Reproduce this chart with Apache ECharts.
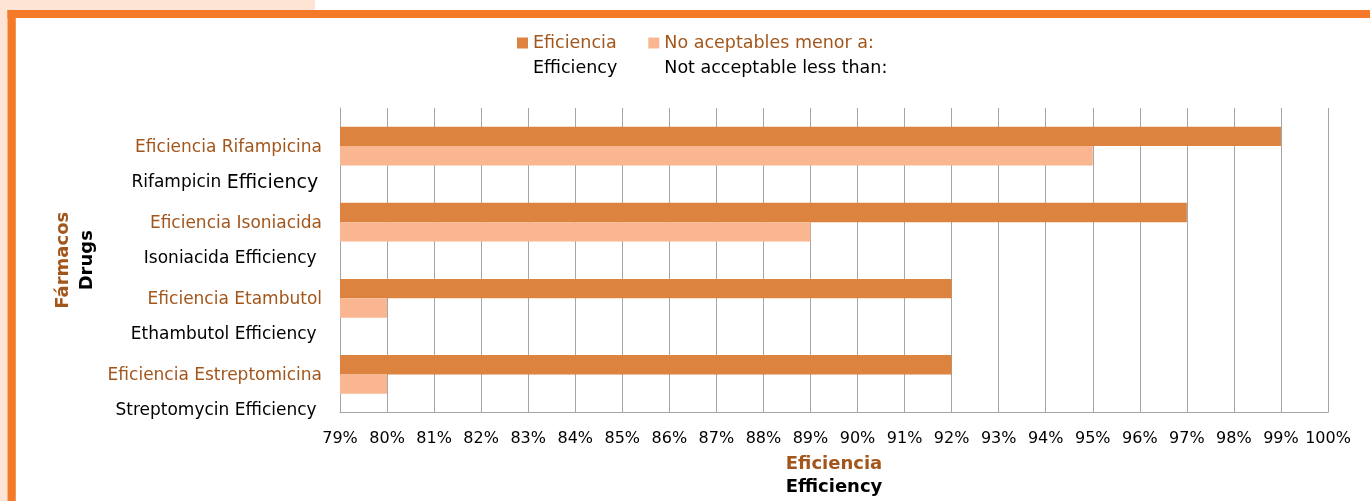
<!DOCTYPE html>
<html><head><meta charset="utf-8">
<script src="https://cdn.jsdelivr.net/npm/echarts@6/dist/echarts.min.js"></script>
<style>html,body{margin:0;padding:0;background:#fff}#c{width:1370px;height:501px}</style>
</head><body><div id="c"></div>
<script>
const categoriesEs = ['Eficiencia Rifampicina', 'Eficiencia Isoniacida', 'Eficiencia Etambutol', 'Eficiencia Estreptomicina'];
const categoriesEn = ['Rifampicin Efficiency', 'Isoniacida Efficiency', 'Ethambutol Efficiency', 'Streptomycin Efficiency'];
const efficiency = [99, 97, 92, 92];
const notAcceptable = [95, 89, 80, 80];
const seriesNamesEs = ['Eficiencia', 'No aceptables menor a:'];
const seriesNamesEn = ['Efficiency', 'Not acceptable less than:'];

const BROWN = '#A3561C';
const DARK = '#DC843F';
const LIGHT = '#F9B690';
const GRID = '#A6A6A6';
const FONT = 'DejaVu Sans';

const chart = echarts.init(document.getElementById('c'), null, {renderer: 'canvas'});
chart.setOption({
  animation: false,
  textStyle: {fontFamily: FONT},
  graphic: [
    {type: 'rect', shape: {x: 0, y: 0, width: 315, height: 11}, style: {fill: '#FDE4D5'}, z: 0},
    {type: 'rect', shape: {x: 0, y: 0, width: 7.5, height: 501}, style: {fill: '#FDE4D5'}, z: 0},
    {type: 'rect', shape: {x: 7.5, y: 10, width: 1363, height: 8}, style: {fill: '#F47A2A'}, z: 1},
    {type: 'rect', shape: {x: 7.5, y: 10, width: 8.3, height: 491}, style: {fill: '#F47A2A'}, z: 1}
  ],
  legend: {
    left: 517,
    top: 34,
    padding: 0,
    itemWidth: 11,
    itemHeight: 11,
    itemGap: 31,
    icon: 'rect',
    data: seriesNamesEs,
    formatter: function (name) {
      const i = seriesNamesEs.indexOf(name);
      return '{a|' + name + '}\n{b|' + seriesNamesEn[i] + '}';
    },
    textStyle: {
      fontFamily: FONT,
      fontSize: 17.5,
      padding: [25, 0, 0, 0],
      rich: {
        a: {color: BROWN, fontSize: 17.5, lineHeight: 25, fontFamily: FONT},
        b: {color: '#000', fontSize: 17.5, lineHeight: 25, fontFamily: FONT}
      }
    }
  },
  grid: {left: 340, right: 42, top: 108, bottom: 88.5, containLabel: false},
  xAxis: {
    type: 'value',
    min: 79,
    max: 100,
    interval: 1,
    axisLabel: {formatter: '{value}%', fontSize: 16, color: '#000', margin: 18, fontFamily: FONT},
    axisLine: {show: true, lineStyle: {color: GRID, width: 1}},
    axisTick: {show: false},
    splitLine: {show: true, lineStyle: {color: GRID, width: 1}},
    name: '{a|Eficiencia}\n{b|Efficiency}',
    nameLocation: 'middle',
    nameGap: 40,
    nameTextStyle: {
      rich: {
        a: {color: BROWN, fontSize: 18, fontWeight: 'bold', lineHeight: 23, fontFamily: FONT},
        b: {color: '#000', fontSize: 18, fontWeight: 'bold', lineHeight: 23, fontFamily: FONT}
      }
    }
  },
  yAxis: {
    type: 'category',
    inverse: true,
    data: categoriesEs,
    axisLine: {show: true, lineStyle: {color: GRID, width: 1}},
    axisTick: {show: false},
    splitLine: {show: false},
    axisLabel: {
      margin: 18,
      padding: [38, 0, 0, 0],
      formatter: function (v, i) {
        const en = categoriesEn[i];
        if (i === 0) {
          return '{a|' + v + '}\n{b|Rifampicin }{c|Efficiency} ';
        }
        return '{a|' + v + '}\n{b|' + en + ' }';
      },
      rich: {
        a: {color: BROWN, fontSize: 17, lineHeight: 35, fontFamily: FONT},
        b: {color: '#000', fontSize: 17, lineHeight: 35, fontFamily: FONT},
        c: {color: '#000', fontSize: 19, lineHeight: 35, fontFamily: FONT}
      }
    },
    name: '{a|Fármacos}\n{b|Drugs}',
    nameLocation: 'middle',
    nameGap: 241,
    nameTextStyle: {
      rich: {
        a: {color: BROWN, fontSize: 18, fontWeight: 'bold', lineHeight: 24, fontFamily: FONT},
        b: {color: '#000', fontSize: 18, fontWeight: 'bold', lineHeight: 24, fontFamily: FONT}
      }
    }
  },
  series: [
    {name: seriesNamesEs[0], type: 'bar', data: efficiency, itemStyle: {color: DARK}, barGap: '0%', barCategoryGap: '49%'},
    {name: seriesNamesEs[1], type: 'bar', data: notAcceptable, itemStyle: {color: LIGHT}, barGap: '0%', barCategoryGap: '49%'}
  ]
});
</script></body></html>
